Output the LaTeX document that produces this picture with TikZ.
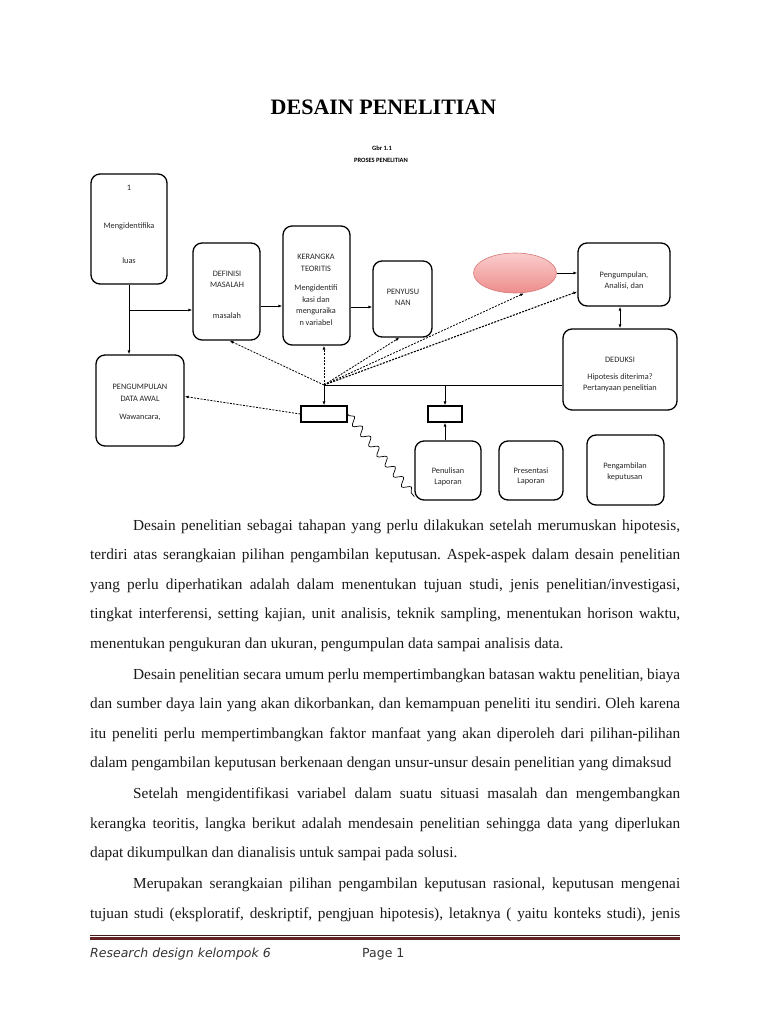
\documentclass[tikz,border=0pt]{standalone}
\usepackage{fontspec}
\setmainfont{Liberation Serif}
\newfontfamily\diag{Carlito}
\newfontfamily\footf{DejaVu Sans}
\usetikzlibrary{arrows.meta,shapes.geometric,decorations.pathmorphing}
\definecolor{maroonline}{RGB}{99,36,35}
\definecolor{elltop}{RGB}{250,205,205}
\definecolor{ellbot}{RGB}{238,140,140}
\definecolor{elledge}{RGB}{214,120,120}
\newcommand{\jl}[2]{\hbox to #1{#2}}
\begin{document}
\frenchspacing
\begin{tikzpicture}[x=1pt,y=-1pt,
  rbox/.style={draw, line width=1.3pt, rounded corners=9pt, inner sep=0pt},
  lbl/.style={font=\diag\fontsize{8.3}{9.5}\selectfont, inner sep=0pt, text=black!85},
  arr/.style={-{Latex[length=4pt,width=3pt]}, line width=0.8pt},
  dar/.style={{Latex[length=4pt,width=3pt]}-{Latex[length=4pt,width=3pt]}, line width=0.8pt},
  dotarr/.style={-{Latex[length=4pt,width=3pt]}, line width=0.8pt, dash pattern=on 2pt off 1.3pt},
  body/.style={font=\fontsize{15.3}{18}\selectfont\frenchspacing, anchor=base west, inner sep=0pt, text=black!90},
]
\useasboundingbox (0,0) rectangle (768,1024);

% title
\node[font=\bfseries\fontsize{22}{24}\selectfont, inner sep=0pt] (title) at (383.5,107) {DESAIN PENELITIAN};
\node[font=\diag\bfseries\fontsize{6.5}{7}\selectfont, inner sep=0pt] (gbr) at (382,148) {Gbr 1.1};
\node[font=\diag\bfseries\fontsize{6.5}{7}\selectfont, inner sep=0pt] (proses) at (381,160) {PROSES PENELITIAN};

% boxes
\node[rbox, minimum width=76pt, minimum height=110pt] (b1) at (129,229) {};
\node[rbox, minimum width=67pt, minimum height=97pt] (def) at (226.5,291.5) {};
\node[rbox, minimum width=67pt, minimum height=119pt] (ker) at (316.5,285.5) {};
\node[rbox, minimum width=59pt, minimum height=76pt] (pny) at (402.5,299) {};
\node[ellipse, minimum width=83pt, minimum height=40pt, inner sep=0pt, draw=elledge, line width=0.6pt, top color=elltop, bottom color=ellbot] (ell) at (515,273) {};
\node[rbox, minimum width=92pt, minimum height=63pt] (pg) at (624,274.5) {};
\node[rbox, minimum width=114pt, minimum height=81pt] (ded) at (620,369.5) {};
\node[rbox, minimum width=88pt, minimum height=91pt] (pa) at (140,400.5) {};
\node[draw, line width=1.2pt, minimum width=46pt, minimum height=16pt, inner sep=0pt] (r1) at (324,414) {};
\node[draw, line width=1.2pt, minimum width=34pt, minimum height=16pt, inner sep=0pt] (r2) at (445,414) {};
\node[rbox, minimum width=66pt, minimum height=59pt] (pl) at (448,470.5) {};
\node[rbox, minimum width=64pt, minimum height=59pt] (pr) at (531,470.5) {};
\node[rbox, minimum width=77pt, minimum height=70pt] (pk) at (625.5,470) {};

% labels
\node[lbl] (b1a) at (129,188) {1};
\node[lbl] (b1b) at (129,226) {Mengidentifika};
\node[lbl] (b1c) at (129,261) {luas};
\node[lbl] (defa) at (227,274) {DEFINISI};
\node[lbl] (defb) at (227,285) {MASALAH};
\node[lbl] (defc) at (227,316) {masalah};
\node[lbl] (kera) at (316,257) {KERANGKA};
\node[lbl] (kerb) at (316,269) {TEORITIS};
\node[lbl] (kerc) at (316,288.5) {Mengidentifi};
\node[lbl] (kerd) at (316,300) {kasi dan};
\node[lbl] (kere) at (316,311.5) {menguraika};
\node[lbl] (kerf) at (316,323) {n variabel};
\node[lbl] (pnya) at (403,292) {PENYUSU};
\node[lbl] (pnyb) at (403,303) {NAN};
\node[lbl] (pga) at (624,275) {Pengumpulan,};
\node[lbl] (pgb) at (624,286) {Analisi, dan};
\node[lbl] (deda) at (620,360) {DEDUKSI};
\node[lbl] (dedb) at (620,377) {Hipotesis diterima?};
\node[lbl] (dedc) at (620,388.5) {Pertanyaan penelitian};
\node[lbl] (paa) at (140,387) {PENGUMPULAN};
\node[lbl] (pab) at (140,398.5) {DATA AWAL};
\node[lbl] (pac) at (140,417) {Wawancara,};
\node[lbl] (pla) at (448,471) {Penulisan};
\node[lbl] (plb) at (448,482.5) {Laporan};
\node[lbl] (pra) at (531,470.5) {Presentasi};
\node[lbl] (prb) at (531,482) {Laporan};
\node[lbl] (pka) at (625,466) {Pengambilan};
\node[lbl] (pkb) at (625,477.5) {keputusan};

% connectors
\coordinate (j1) at (129,310);
\coordinate (hub) at (324,385);
\coordinate (j2) at (445,385);
\draw[arr] (b1.south) -- (b1.south |- pa.north);
\draw[arr] (j1) -- (j1 -| def.west);
\draw[arr] (def.east |- 0,306) -- (ker.west |- 0,306);
\draw[arr] (ker.east |- 0,307) -- (pny.west |- 0,307);
\draw[arr] (ell.east) -- (ell.east -| pg.west);
\draw[dar] (ded.north) -- (ded.north |- pg.south);
\draw[line width=0.8pt] (hub) -- (hub -| ded.west);
\draw[arr] (hub) -- (r1.north);
\draw[arr] (j2) -- (r2.north);
\draw[arr] (r2.south |- pl.north) -- (r2.south);
\draw[dotarr] (hub) -- ([xshift=3pt]def.south);
\draw[dotarr] (hub) -- (hub |- ker.south);
\draw[dotarr] (hub) -- ([xshift=-3pt]pny.south);
\draw[dotarr] (hub) -- ([xshift=9pt]ell.south);
\draw[dotarr, line width=1.1pt] (hub) -- ([yshift=15pt]pg.south west);
\draw[dotarr] (r1.west) -- ([yshift=4pt]pa.east);
\draw[line width=0.7pt, decorate, decoration={snake, amplitude=3.8pt, segment length=13pt, pre length=2pt, post length=3pt}] (r1.east) -- ([yshift=4pt]pl.south west);

% body text
\node[body] (p1a) at (133,530) {\jl{547pt}{Desain penelitian sebagai tahapan yang perlu dilakukan setelah merumuskan hipotesis,}};
\node[body] (p1b) at (90,559.5) {\jl{590pt}{terdiri atas serangkaian pilihan pengambilan keputusan. Aspek-aspek dalam desain penelitian}};
\node[body] (p1c) at (90,589) {\jl{590pt}{yang perlu diperhatikan adalah dalam menentukan tujuan studi, jenis penelitian/investigasi,}};
\node[body] (p1d) at (90,618.5) {\jl{590pt}{tingkat interferensi, setting kajian, unit analisis, teknik sampling, menentukan horison waktu,}};
\node[body] (p1e) at (90,648) {menentukan pengukuran dan ukuran, pengumpulan data sampai analisis data.};

\node[body] (p2a) at (133,679) {\jl{547pt}{Desain penelitian secara umum perlu mempertimbangkan batasan waktu penelitian, biaya}};
\node[body] (p2b) at (90,708.5) {\jl{590pt}{dan sumber daya lain yang akan dikorbankan, dan kemampuan peneliti itu sendiri. Oleh karena}};
\node[body] (p2c) at (90,738) {\jl{590pt}{itu peneliti perlu mempertimbangkan faktor manfaat yang akan diperoleh dari pilihan-pilihan}};
\node[body] (p2d) at (90,767.5) {dalam pengambilan keputusan berkenaan dengan unsur-unsur desain penelitian yang dimaksud};

\node[body] (p3a) at (133,798.5) {\jl{547pt}{Setelah mengidentifikasi variabel dalam suatu situasi masalah dan mengembangkan}};
\node[body] (p3b) at (90,828) {\jl{590pt}{kerangka teoritis, langka berikut adalah mendesain penelitian sehingga data yang diperlukan}};
\node[body] (p3c) at (90,857.5) {dapat dikumpulkan dan dianalisis untuk sampai pada solusi.};

\node[body] (p4a) at (133,888.5) {\jl{547pt}{Merupakan serangkaian pilihan pengambilan keputusan rasional, keputusan mengenai}};
\node[body] (p4b) at (90,918) {\jl{590pt}{tujuan studi (eksploratif, deskriptif, pengjuan hipotesis), letaknya ( yaitu konteks studi), jenis}};

% footer
\coordinate (fl) at (90,938.5);
\coordinate (fr) at (680,938.5);
\draw[line width=3pt, maroonline] (fl) -- (fr);
\draw[line width=0.6pt, maroonline!70!black] ([yshift=3pt]fl) -- ([yshift=3pt]fr);
\node[font=\footf\itshape\fontsize{12.5}{14}\selectfont, anchor=base west, inner sep=0pt, text=black!80] (ft1) at (90,957) {Research design kelompok 6};
\node[font=\footf\fontsize{12.5}{14}\selectfont, anchor=base west, inner sep=0pt, text=black!80] (ft2) at (362,957) {Page 1};
\end{tikzpicture}
\end{document}
